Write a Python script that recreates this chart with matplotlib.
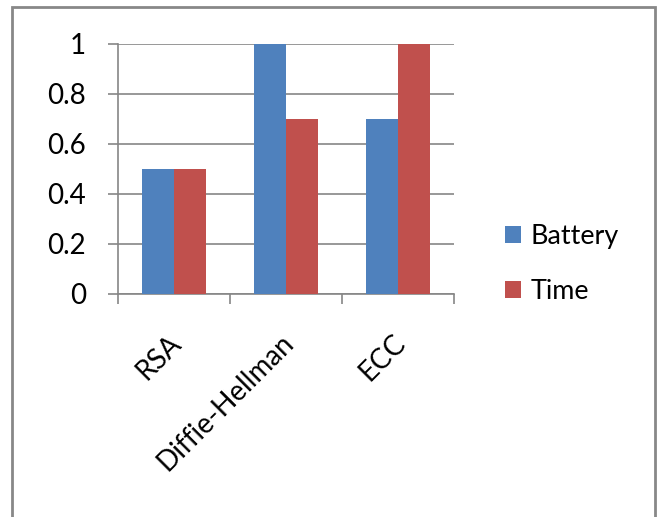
import matplotlib
matplotlib.use('Agg')
import matplotlib.pyplot as plt
import numpy as np
from matplotlib.patches import Rectangle

categories = ['RSA', 'Diffie-Hellman', 'ECC']
battery = [0.5, 1.0, 0.7]
time_vals = [0.5, 0.7, 1.0]
yticks = [0, 0.2, 0.4, 0.6, 0.8, 1]
ytick_labels = ['0', '0.2', '0.4', '0.6', '0.8', '1']

blue = '#4F81BD'
red = '#C0504D'
grey = '#868686'

plt.rcParams['font.family'] = ['Lato', 'DejaVu Sans']
fs = 20

fig = plt.figure(figsize=(6.58, 5.17), dpi=100)
ax = fig.add_axes([118 / 658, 1 - 294 / 517, (454 - 118) / 658, 250 / 517])

x = np.arange(len(categories))
w = 1 / 3.5
ax.bar(x - w / 2, battery, w, color=blue, label='Battery', zorder=3)
ax.bar(x + w / 2, time_vals, w, color=red, label='Time', zorder=3)

ax.set_xlim(-0.5, len(categories) - 0.5)
ax.set_ylim(0, 1)
ax.set_yticks(yticks)
ax.set_yticklabels(ytick_labels, fontsize=fs)
ax.yaxis.grid(True, color=grey, linewidth=1.2, zorder=0)
ax.tick_params(axis='y', length=7.2, width=1.2, color=grey, pad=16)

# category ticks sit at the boundaries between groups
ax.set_xticks(np.arange(len(categories) + 1) - 0.5)
ax.set_xticklabels([])
ax.tick_params(axis='x', length=7.2, width=1.2, color=grey)
for i, c in enumerate(categories):
    ax.text(i + 0.03, -0.18, c, rotation=45, ha='right', va='center',
            rotation_mode='anchor', fontsize=fs, transform=ax.transData)

for s in ['top', 'right']:
    ax.spines[s].set_visible(False)
for s in ['left', 'bottom']:
    ax.spines[s].set_color(grey)
    ax.spines[s].set_linewidth(1.2)

fig.legend(loc='center left', bbox_to_anchor=(481 / 658, 1 - 264 / 517),
           frameon=False, fontsize=19.4, handlelength=0.58, handleheight=0.58,
           handletextpad=0.35, labelspacing=1.12)

fig.patches.append(Rectangle((12 / 658, -0.01), (655 - 12) / 658, 1 - 7 / 517 + 0.01,
                             transform=fig.transFigure, fill=False,
                             edgecolor='#888888', linewidth=2))

fig.savefig('out.png', dpi=100)
